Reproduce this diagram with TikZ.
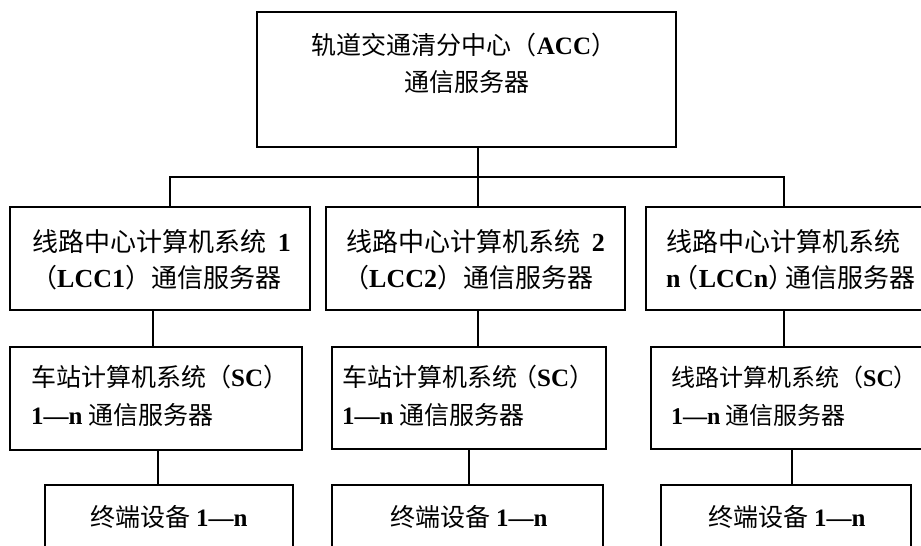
\documentclass[tikz,border=0pt]{standalone}
\usepackage{fontspec}
\setmainfont{Noto Sans CJK SC}
\newfontfamily\latfont{Liberation Serif}
\newcommand\lt[1]{{\latfont\bfseries #1}}
\begin{document}
\begin{tikzpicture}[x=1pt,y=-1pt,
  box/.style={draw, line width=1.5pt, rectangle, inner sep=0pt, outer sep=0pt, anchor=north west},
  txt/.style={inner sep=0pt, font=\fontsize{25}{30}\selectfont},
  txtb/.style={inner sep=0pt, font=\fontsize{26}{30}\selectfont},
  txts/.style={inner sep=0pt, font=\fontsize{24}{30}\selectfont},
  ln/.style={line width=1.5pt}]
\useasboundingbox (0,0) rectangle (921,546);
\fill[white] (0,0) rectangle (921,546);
\begin{scope}
\clip (0,0) rectangle (921,546);
% boxes
\node[box, minimum width=419pt, minimum height=135pt] (acc) at (257,12) {};
\node[box, minimum width=300pt, minimum height=103pt] (lcc1) at (10,207) {};
\node[box, minimum width=299pt, minimum height=103pt] (lcc2) at (326,207) {};
\node[box, minimum width=290pt, minimum height=103pt] (lcc3) at (646,207) {};
\node[box, minimum width=292pt, minimum height=103pt] (sc1) at (10,347) {};
\node[box, minimum width=274pt, minimum height=102pt] (sc2) at (332,347) {};
\node[box, minimum width=285pt, minimum height=102pt] (sc3) at (651,347) {};
\node[box, minimum width=248pt, minimum height=80pt] (t1) at (45,485) {};
\node[box, minimum width=271pt, minimum height=80pt] (t2) at (332,485) {};
\node[box, minimum width=250pt, minimum height=80pt] (t3) at (661,485) {};
% texts
\node[txt] (acca) at (464,45) {轨道交通清分中心（\lt{ACC}）};
\node[txt] (accb) at (467,82) {通信服务器};
\node[txtb, anchor=west] (l1a) at (32,242) {线路中心计算机系统\hspace{0.45em}\lt{1}};
\node[txtb, anchor=west] (l1b) at (31,278) {（\lt{LCC1}）通信服务器};
\node[txtb, anchor=west] (l2a) at (346,242) {线路中心计算机系统\hspace{0.45em}\lt{2}};
\node[txtb, anchor=west] (l2b) at (343,278) {（\lt{LCC2}）通信服务器};
\node[txtb, anchor=west] (l3a) at (666,242) {线路中心计算机系统};
\node[txtb, anchor=west] (l3b) at (666,278) {\lt{n}\hspace{-0.3em}（\lt{LCCn}）\hspace{-0.35em}通信服务器};
\node[txt, anchor=west] (s1a) at (31,377) {车站计算机系统（\lt{SC}）};
\node[txt, anchor=west] (s1b) at (31,415) {\lt{1—n} 通信服务器};
\node[txt, anchor=west] (s2a) at (342,377) {车站计算机系统\hspace{-0.2em}（\lt{SC}）};
\node[txt, anchor=west] (s2b) at (342,415) {\lt{1—n} 通信服务器};
\node[txts, anchor=west] (s3a) at (671,377) {线路计算机系统（\lt{SC}）};
\node[txts, anchor=west] (s3b) at (671,415) {\lt{1—n} 通信服务器};
\node[txt] (t1a) at (169,517) {终端设备 \lt{1—n}};
\node[txt] (t2a) at (469,517) {终端设备 \lt{1—n}};
\node[txt] (t3a) at (787,517) {终端设备 \lt{1—n}};
% connectors
\coordinate (j) at (478,177);
\coordinate (bl) at (170,177);
\coordinate (br) at (784,177);
\draw[ln] (acc.south -| j) -- (lcc2.north -| j);
\draw[ln] (bl |- lcc1.north) -- (bl) -- (br) -- (br |- lcc3.north);
\coordinate (x1) at (153,0);
\coordinate (x2) at (478,0);
\coordinate (x3) at (784,0);
\draw[ln] (lcc1.south -| x1) -- (sc1.north -| x1);
\draw[ln] (lcc2.south -| x2) -- (sc2.north -| x2);
\draw[ln] (lcc3.south -| x3) -- (sc3.north -| x3);
\coordinate (y1) at (158,0);
\coordinate (y2) at (469,0);
\coordinate (y3) at (792,0);
\draw[ln] (sc1.south -| y1) -- (t1.north -| y1);
\draw[ln] (sc2.south -| y2) -- (t2.north -| y2);
\draw[ln] (sc3.south -| y3) -- (t3.north -| y3);
\end{scope}
\end{tikzpicture}
\end{document}
